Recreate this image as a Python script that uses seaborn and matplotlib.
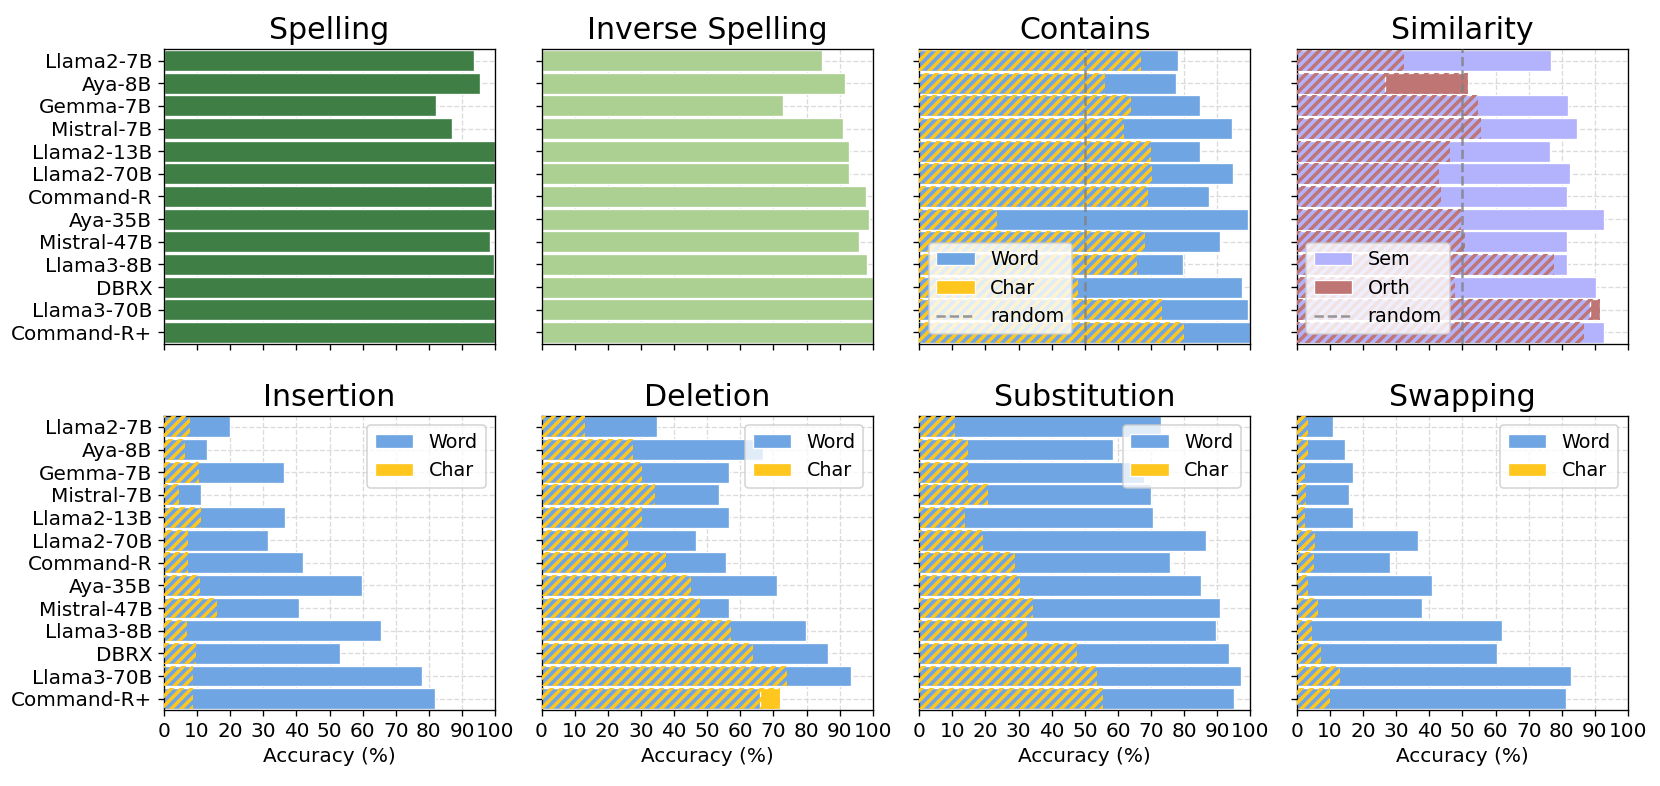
import numpy as np
import pandas as pd
import seaborn as sns
import matplotlib.pyplot as plt
from matplotlib.lines import Line2D

models = ['Llama2-7B', 'Aya-8B', 'Gemma-7B', 'Mistral-7B', 'Llama2-13B', 'Llama2-70B',
          'Command-R', 'Aya-35B', 'Mistral-47B', 'Llama3-8B', 'DBRX', 'Llama3-70B', 'Command-R+']

# single-bar tasks
spelling = [93.5, 95.3, 82.2, 87.0, 100, 100, 99.0, 100, 98.5, 99.5, 100, 100, 100]
inverse_spelling = [84.6, 91.6, 73.0, 91.1, 92.9, 92.7, 97.9, 98.7, 95.8, 98.2, 100, 100, 100]

# word vs char tasks
contains_word = [78.1, 77.6, 84.9, 94.3, 84.9, 94.8, 87.5, 99.4, 90.9, 79.5, 97.3, 99.4, 100]
contains_char = [67.0, 56.1, 64.0, 61.7, 70.0, 70.3, 69.1, 23.6, 68.2, 65.8, 48.0, 73.3, 79.8]

similarity_sem = [76.7, 26.6, 82.0, 84.6, 76.3, 82.6, 81.7, 92.6, 81.7, 81.7, 90.3, 88.5, 92.6]
similarity_orth = [32.3, 51.7, 54.7, 55.5, 46.3, 42.8, 43.5, 49.7, 50.9, 77.6, 47.7, 91.5, 86.6]

insertion_word = [19.8, 13.1, 36.4, 11.1, 36.6, 31.4, 42.1, 59.9, 40.8, 65.5, 53.2, 77.9, 81.8]
insertion_char = [8.0, 6.4, 10.6, 4.6, 11.3, 7.3, 7.4, 10.9, 15.9, 7.1, 9.8, 8.8, 8.8]

deletion_word = [34.8, 66.9, 56.7, 53.7, 56.7, 46.7, 55.8, 71.1, 56.6, 79.8, 86.4, 93.3, 65.8]
deletion_char = [13.0, 27.5, 30.4, 34.2, 30.4, 26.2, 37.7, 45.1, 47.7, 57.2, 63.9, 74.1, 72.0]

substitution_word = [72.9, 58.5, 68.0, 69.9, 70.7, 86.6, 75.8, 85.0, 90.7, 89.6, 93.6, 97.0, 95.1]
substitution_char = [10.9, 14.8, 14.8, 20.8, 13.9, 19.4, 28.8, 30.5, 34.5, 32.6, 47.5, 53.7, 55.4]

swapping_word = [10.8, 14.5, 17.1, 15.8, 17.1, 36.7, 28.2, 40.9, 37.7, 61.8, 60.3, 82.9, 81.3]
swapping_char = [3.5, 3.5, 2.4, 2.7, 2.4, 5.4, 5.2, 3.5, 6.4, 4.6, 7.4, 13.1, 10.0]

DARK_GREEN = '#3f7f46'
LIGHT_GREEN = '#abd091'
BLUE = '#6fa5e2'
YELLOW = '#ffc61e'
SEM = '#b2b2fd'
ORTH = '#c07575'

HATCH_LW = 2.1
plt.rcParams['hatch.linewidth'] = HATCH_LW
plt.rcParams['font.size'] = 12

fig, axes = plt.subplots(2, 4, figsize=(13.84, 6.55), dpi=120, sharex=True)
fig.subplots_adjust(left=0.0987, right=0.9803, top=0.9373, bottom=0.0967,
                    wspace=0.14, hspace=0.244)

BAR_W = 0.92
N = len(models)


def single_panel(ax, values, color, title):
    sns.barplot(x=values, y=models, color=color, errorbar=None, width=BAR_W,
                edgecolor='white', linewidth=0.8, saturation=1, ax=ax, zorder=2)
    ax.set_title(title, fontsize=18)


def pair_panel(ax, big, small, big_color, small_color, big_label, small_label,
               title, legend_loc, random_line=False):
    # small solid underneath, big on top, then small again as a striped overlay
    sns.barplot(x=big, y=models, color=big_color, errorbar=None, width=BAR_W,
                edgecolor='white', linewidth=0.8, saturation=1, ax=ax, zorder=2)
    sns.barplot(x=small, y=models, color=small_color, errorbar=None, width=BAR_W,
                edgecolor='white', linewidth=0.8, saturation=1, ax=ax, zorder=1)
    handles = [ax.containers[0], ax.containers[1]]
    stripes = ax.barh(np.arange(N), small, height=BAR_W, facecolor='none',
                      edgecolor=small_color, hatch='////', linewidth=0, zorder=3)
    for p in stripes:
        if hasattr(p, 'set_hatch_linewidth'):
            p.set_hatch_linewidth(HATCH_LW)
    labels = [big_label, small_label]
    if random_line:
        ax.axvline(50, color='gray', linestyle='--', linewidth=1.5, alpha=0.8, zorder=4)
        handles.append(Line2D([0], [0], color='gray', linestyle='--', linewidth=1.5, alpha=0.8))
        labels.append('random')
    ax.legend(handles, labels, loc=legend_loc, fontsize=11.5)
    ax.set_title(title, fontsize=18)


single_panel(axes[0, 0], spelling, DARK_GREEN, 'Spelling')
single_panel(axes[0, 1], inverse_spelling, LIGHT_GREEN, 'Inverse Spelling')
pair_panel(axes[0, 2], contains_word, contains_char, BLUE, YELLOW, 'Word', 'Char',
           'Contains', 'lower left', random_line=True)
pair_panel(axes[0, 3], similarity_sem, similarity_orth, SEM, ORTH, 'Sem', 'Orth',
           'Similarity', 'lower left', random_line=True)
pair_panel(axes[1, 0], insertion_word, insertion_char, BLUE, YELLOW, 'Word', 'Char',
           'Insertion', 'upper right')
pair_panel(axes[1, 1], deletion_word, deletion_char, BLUE, YELLOW, 'Word', 'Char',
           'Deletion', 'upper right')
pair_panel(axes[1, 2], substitution_word, substitution_char, BLUE, YELLOW, 'Word', 'Char',
           'Substitution', 'upper right')
pair_panel(axes[1, 3], swapping_word, swapping_char, BLUE, YELLOW, 'Word', 'Char',
           'Swapping', 'upper right')

for i, row in enumerate(axes):
    for j, ax in enumerate(row):
        ax.set_xlim(0, 100)
        ax.set_ylim(N - 0.5, -0.5)
        ax.set_xticks(np.arange(0, 101, 10))
        ax.set_axisbelow(True)
        ax.grid(True, linestyle='--', color='lightgray', linewidth=0.8, alpha=0.8)
        ax.set_ylabel('')
        for s in ax.spines.values():
            s.set_visible(True)
            s.set_color('black')
        ax.tick_params(axis='both', labelsize=12)
        if j > 0:
            ax.tick_params(axis='y', labelleft=False)
        if i == 1:
            ax.set_xlabel('Accuracy (%)', fontsize=12)
        else:
            ax.set_xlabel('')

fig.savefig('out.png', dpi=120)
